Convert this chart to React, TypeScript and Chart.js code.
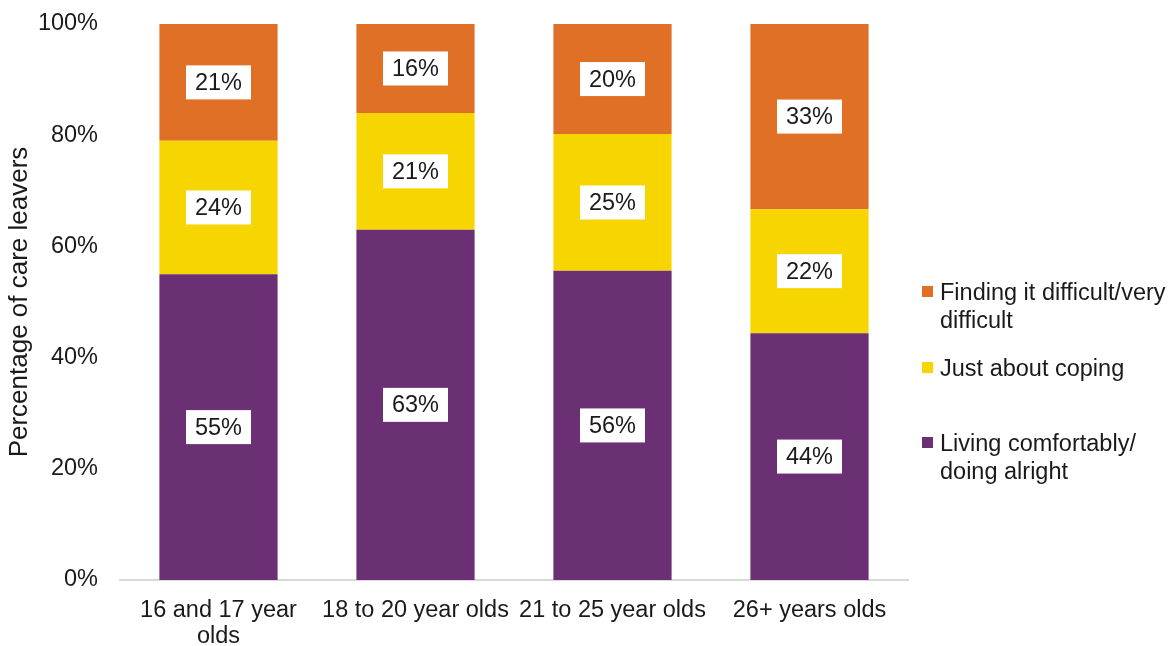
import React, { useEffect, useRef } from "react";
import { Chart, registerables } from "chart.js";

Chart.register(...registerables);

const categories: (string | string[])[] = [["16 and 17 year", "olds"], "18 to 20 year olds", "21 to 25 year olds", "26+ years olds"];
const livingComfortably = [55, 63, 55.6, 44.4];
const justCoping = [24, 21, 24.6, 22.3];
const findingDifficult = [21, 16, 19.8, 33.3];
const yTicks = [0, 20, 40, 60, 80, 100];

const PURPLE = "#6B2F73";
const YELLOW = "#F7D500";
const ORANGE = "#E07026";
const FONT = "'Liberation Sans', Arial, sans-serif";
const TEXT = "#1a1a1a";
const FS = 23.5;

const labelPlugin = {
  id: "boxLabels",
  afterDatasetsDraw(chart: any) {
    const ctx = chart.ctx;
    ctx.save();
    ctx.font = `${FS}px ${FONT}`;
    ctx.textAlign = "center";
    ctx.textBaseline = "middle";
    chart.data.datasets.forEach((ds: any, i: number) => {
      const meta = chart.getDatasetMeta(i);
      meta.data.forEach((bar: any, j: number) => {
        const v = ds.data[j];
        const txt = Math.round(v) + "%";
        const cy = (bar.y + bar.base) / 2;
        const w = 65, h = 34;
        ctx.fillStyle = "#ffffff";
        ctx.fillRect(bar.x - w / 2, cy - h / 2, w, h);
        ctx.fillStyle = TEXT;
        ctx.fillText(txt, bar.x, cy + 1);
      });
    });
    ctx.restore();
  },
};

export default function App() {
  const ref = useRef<HTMLCanvasElement | null>(null);
  useEffect(() => {
    if (!ref.current) return;
    const chart = new Chart(ref.current, {
      type: "bar",
      data: {
        labels: categories as any,
        datasets: [
          { label: "Living comfortably/ doing alright", data: livingComfortably, backgroundColor: PURPLE },
          { label: "Just about coping", data: justCoping, backgroundColor: YELLOW },
          { label: "Finding it difficult/very difficult", data: findingDifficult, backgroundColor: ORANGE },
        ],
      },
      options: {
        responsive: false,
        animation: false,
        layout: { padding: { top: 24, right: 266, left: 0, bottom: 0 } },
        plugins: { legend: { display: false }, tooltip: { enabled: false } },
        datasets: { bar: { barPercentage: 0.6, categoryPercentage: 1 } } as any,
        scales: {
          x: {
            stacked: true,
            grid: { display: false },
            border: { display: true, color: "#d9d9d9", width: 2 },
            ticks: { color: TEXT, font: { family: FONT, size: FS, lineHeight: 1.1 }, padding: 10, maxRotation: 0, autoSkip: false },
            afterFit: (s: any) => { s.height = 66; s.paddingLeft = 0; s.paddingRight = 0; },
          },
          y: {
            stacked: true,
            min: 0,
            max: 100,
            afterBuildTicks: (s: any) => { s.ticks = yTicks.map((v) => ({ value: v })); },
            grid: { display: false, drawTicks: false },
            border: { display: false },
            ticks: { color: TEXT, font: { family: FONT, size: FS }, padding: 22, callback: (v: any) => v + "%" },
            title: { display: true, text: "Percentage of care leavers", color: TEXT, font: { family: FONT, size: 26 }, padding: { top: 4, bottom: 0 } },
            afterFit: (s: any) => { s.width = 120; s.paddingTop = 0; s.paddingBottom = 0; },
          },
        },
      },
      plugins: [labelPlugin],
    });
    return () => chart.destroy();
  }, []);

  const legendItems = [
    { color: ORANGE, lines: ["Finding it difficult/very", "difficult"], top: 278 },
    { color: YELLOW, lines: ["Just about coping"], top: 354 },
    { color: PURPLE, lines: ["Living comfortably/", "doing alright"], top: 429 },
  ];

  return (
    <div style={{ position: "absolute", left: 0, top: 0, width: 1174, height: 646, background: "#fff" }}>
      <canvas ref={ref} width={1174} height={646} style={{ display: "block" }} />
      {legendItems.map((it, i) => (
        <div key={i} style={{ position: "absolute", left: 922, top: it.top, fontFamily: FONT, fontSize: FS, lineHeight: "28px", color: TEXT, whiteSpace: "nowrap" }}>
          <span style={{ position: "absolute", left: 0, top: 8, width: 11, height: 11, background: it.color }} />
          <div style={{ marginLeft: 18 }}>
            {it.lines.map((l, k) => (<div key={k}>{l}</div>))}
          </div>
        </div>
      ))}
    </div>
  );
}
